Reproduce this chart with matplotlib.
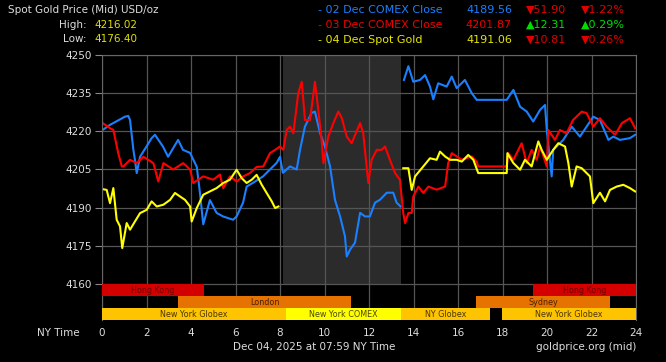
import matplotlib
matplotlib.use('Agg')
import matplotlib.pyplot as plt
import numpy as np

# 02 Dec COMEX close (blue), hours NY time / price
blue_h = [0.03, 0.36, 1.03, 1.18, 1.26, 1.41, 1.48, 1.56, 1.71, 2.0, 2.23, 2.38, 2.74, 2.97,
          3.42, 3.64, 3.96, 4.26, 4.40, 4.55, 4.85, 5.15, 5.44, 5.89, 6.05, 6.34, 6.50, 6.79,
          7.24, 7.55, 7.85, 8.0, 8.13, 8.45, 8.75, 8.90, 9.12, 9.42, 9.57, 9.80, 10.02, 10.25,
          10.47, 10.70, 10.92, 11.0, 11.15, 11.37, 11.60, 11.82, 12.04, 12.27, 12.49, 12.80,
          13.09, 13.24, 13.42, np.nan,
          13.57, 13.77, 13.99, 14.29, 14.52, 14.74, 14.89, 15.11, 15.49, 15.72, 15.94, 16.31,
          16.62, 16.84, 18.19, 18.49, 18.79, 19.09, 19.38, 19.69, 19.91, 19.99, 20.21, 20.28,
          20.73, 21.11, 21.48, 21.78, 22.08, 22.38, 22.76, 22.98, 23.28, 23.73, 23.96]
blue_p = [4220.5, 4222.5, 4225.7, 4226.0, 4224.4, 4212.7, 4208.8, 4203.6, 4210.0, 4214.0, 4217.3, 4218.6, 4214.0, 4210.0,
          4216.6, 4212.7, 4211.5, 4206.0, 4196.0, 4183.5, 4193.0, 4188.0, 4186.6, 4185.3, 4186.6, 4192.0, 4198.3, 4199.8,
          4202.3, 4205.0, 4207.6, 4210.0, 4203.7, 4206.2, 4205.0, 4212.7, 4221.8, 4227.2, 4227.7, 4219.3, 4214.0, 4206.2,
          4193.1, 4186.6, 4178.8, 4170.9, 4173.6, 4176.3, 4188.0, 4186.6, 4186.6, 4192.0, 4193.1, 4195.9,
          4195.9, 4192.0, 4190.5, np.nan,
          4240.1, 4245.5, 4239.4, 4240.1, 4242.0, 4237.5, 4232.5, 4238.8, 4237.5, 4241.4, 4236.9, 4240.1,
          4234.9, 4232.3, 4232.3, 4236.2, 4229.6, 4227.7, 4223.8, 4228.4, 4230.3, 4220.5, 4202.3, 4212.7,
          4216.6, 4221.8, 4217.9, 4221.8, 4225.7, 4224.4, 4216.6, 4217.9, 4216.6, 4217.3, 4218.6]

# 03 Dec COMEX close (red)
red_h = [0.03, 0.36, 0.51, 0.73, 0.89, 0.96, 1.26, 1.56, 1.86, 2.31, 2.53, 2.76, 3.20, 3.65,
         3.96, 4.10, 4.55, 5.00, 5.30, 5.45, 5.75, 6.05, 6.35, 6.65, 6.95, 7.25, 7.55, 7.78,
         8.0, 8.15, 8.30, 8.45, 8.60, 8.82, 8.98, 9.12, 9.35, 9.57, 9.72, 9.87, 9.95, 10.17,
         10.40, 10.62, 10.78, 11.0, 11.22, 11.60, 11.74, 11.97, 12.12, 12.35, 12.57, 12.72,
         12.94, 13.17, 13.39, 13.54, 13.62, 13.77, 13.92, 13.99, 14.22, 14.44, 14.67, 15.04,
         15.42, 15.56, 15.72, 16.17, 16.62, 16.84, 16.91, 18.19, 18.26, 18.49, 18.86, 19.09,
         19.31, 19.54, 19.69, 19.99, 20.06, 20.36, 20.58, 20.88, 21.17, 21.56, 21.78, 22.08,
         22.38, 22.68, 23.06, 23.37, 23.73, 23.96]
red_p = [4223.2, 4221.2, 4220.5, 4211.4, 4206.2, 4206.2, 4208.8, 4207.5, 4210.0, 4207.5, 4200.3, 4207.5, 4205.0, 4207.5,
         4205.0, 4199.7, 4202.3, 4201.0, 4203.0, 4197.7, 4202.3, 4200.3, 4202.3, 4203.6, 4206.0, 4206.2, 4211.4, 4212.7,
         4214.0, 4212.7, 4220.5, 4221.8, 4219.2, 4234.9, 4239.4, 4224.4, 4224.4, 4239.4, 4228.4, 4216.6, 4207.5, 4217.9,
         4223.2, 4227.7, 4225.1, 4217.9, 4215.3, 4223.2, 4219.2, 4199.7, 4208.8, 4212.7, 4212.7, 4214.0,
         4208.8, 4203.6, 4201.0, 4187.9, 4184.0, 4187.9, 4188.0, 4194.4, 4198.3, 4195.8, 4198.3, 4197.1,
         4198.3, 4207.5, 4211.4, 4208.8, 4210.1, 4208.0, 4206.2, 4206.2, 4211.4, 4208.8, 4215.3, 4207.5,
         4212.7, 4208.8, 4214.0, 4206.2, 4220.5, 4216.6, 4220.5, 4219.2, 4224.4, 4227.7, 4227.1, 4221.8,
         4225.1, 4221.8, 4218.6, 4223.2, 4225.1, 4221.2]

# 04 Dec spot gold (yellow)
yel_h = [0.03, 0.21, 0.36, 0.51, 0.66, 0.81, 0.91, 1.11, 1.26, 1.48, 1.71, 2.01, 2.23, 2.46,
         2.76, 3.06, 3.28, 3.51, 3.73, 3.96, 4.03, 4.26, 4.55, 4.85, 5.15, 5.45, 5.75, 6.05,
         6.28, 6.50, 6.73, 6.95, 7.18, 7.40, 7.63, 7.78, 7.93, np.nan,
         13.54, 13.77, 13.92, 14.07, 14.44, 14.74, 15.04, 15.19, 15.42, 15.64, 15.94, 16.17,
         16.46, 16.69, 16.91, 18.19, 18.22, 18.49, 18.79, 19.01, 19.31, 19.61, 19.76, 19.99,
         20.28, 20.51, 20.81, 20.96, 21.11, 21.33, 21.56, 21.78, 21.93, 22.08, 22.38, 22.61,
         22.83, 23.13, 23.43, 23.73, 23.96]
yel_p = [4197.3, 4197.0, 4191.8, 4197.7, 4185.3, 4182.7, 4174.2, 4184.0, 4181.4, 4184.6, 4187.9, 4189.2, 4192.5, 4190.5,
         4191.2, 4193.1, 4195.8, 4194.4, 4193.1, 4190.5, 4184.6, 4189.9, 4195.1, 4196.4, 4197.7, 4199.7, 4201.0, 4204.9,
         4201.6, 4199.7, 4201.0, 4202.9, 4199.0, 4195.8, 4192.5, 4189.9, 4190.5, np.nan,
         4205.5, 4205.5, 4197.0, 4202.3, 4206.2, 4209.4, 4208.8, 4212.0, 4210.1, 4208.8, 4208.8, 4208.1,
         4210.7, 4208.8, 4203.6, 4203.6, 4211.4, 4207.5, 4204.9, 4208.8, 4206.2, 4216.0, 4212.7, 4208.8,
         4212.7, 4215.3, 4214.0, 4207.5, 4198.3, 4206.2, 4205.5, 4203.6, 4202.3, 4191.8, 4195.9, 4192.5,
         4197.0, 4198.3, 4199.0, 4197.7, 4196.4]

# trading sessions (hours NY time)
session_names = ['Hong Kong', 'London', 'New York Globex', 'New York COMEX', 'NY Globex',
                 'Sydney', 'New York Globex', 'Hong Kong']
session_start = [0, 3.42, 0, 8.27, 13.42, 16.8, 17.98, 19.38]
session_end = [4.58, 11.2, 8.27, 13.42, 17.44, 22.83, 24, 24]
session_row = [0, 1, 2, 2, 2, 1, 2, 0]
comex_open, comex_close = 8.15, 13.42

session_color = {'Hong Kong': '#d40000', 'London': '#e67300', 'Sydney': '#e67300',
                 'New York Globex': '#ffc400', 'NY Globex': '#ffc400', 'New York COMEX': '#ffff00'}
session_text = {'Hong Kong': '#6a0000', 'London': '#4a2000', 'Sydney': '#4a2000',
                'New York Globex': '#4a3500', 'NY Globex': '#4a3500', 'New York COMEX': '#4a4a00'}

ylo, yhi = 4146, 4250
band_top = 4160
band_h = (band_top - ylo) / 3

fig = plt.figure(figsize=(6.66, 3.62), dpi=100, facecolor='black')
ax = fig.add_axes([102/666, 42/362, 534/666, 265.3/362], facecolor='black')
ax.set_xlim(0, 24)
ax.set_ylim(ylo, yhi)

# COMEX hours shading
ax.axvspan(comex_open, comex_close, ymin=(band_top - ylo)/(yhi - ylo), ymax=1,
           color='#2b2b2b', zorder=0.2, lw=0)

ax.set_axisbelow(True)
ax.set_xticks(range(0, 25, 2))
ax.set_yticks(range(4160, 4251, 15))
ax.grid(color='#555555', lw=0.9)
ax.tick_params(axis='y', length=5, width=0.8, color='#888888', labelcolor='#dddddd',
               labelsize=7.5, pad=2)
ax.tick_params(axis='x', length=0, labelcolor='#dddddd', labelsize=7.5, pad=6)
for s in ['left', 'right', 'top']:
    ax.spines[s].set_color('#666666')
ax.spines['bottom'].set_visible(False)

ax.plot(blue_h, blue_p, color='#1a80ff', lw=1.5, zorder=2)
ax.plot(red_h, red_p, color='#ff0000', lw=1.5, zorder=2.1)
ax.plot(yel_h, yel_p, color='#ffff00', lw=1.5, zorder=2.2)

# session bands
for name, s0, s1, row in zip(session_names, session_start, session_end, session_row):
    yc = band_top - band_h * (row + 0.5)
    ax.barh(yc, s1 - s0, left=s0, height=band_h, color=session_color[name], lw=0, zorder=3)
    ax.text((s0 + s1) / 2, yc, name, ha='center', va='center', fontsize=5.8,
            color=session_text[name], zorder=4)

# header
def fy(px):
    return 1 - px / 362

fig.text(8/666, fy(10), 'Spot Gold Price (Mid) USD/oz', color='#dddddd', fontsize=7.5, va='center')
fig.text(87/666, fy(25), 'High:', color='#dddddd', fontsize=7.5, va='center', ha='right')
fig.text(94/666, fy(25), '4216.02', color='#e0e000', fontsize=7.5, va='center')
fig.text(87/666, fy(39.5), 'Low:', color='#dddddd', fontsize=7.5, va='center', ha='right')
fig.text(94/666, fy(39.5), '4176.40', color='#e0e000', fontsize=7.5, va='center')

rows = [('- 02 Dec COMEX Close', '4189.56', '\u25bc51.90', '\u25bc1.22%', '#1a80ff', '#e00000'),
        ('- 03 Dec COMEX Close', '4201.87', '\u25b212.31', '\u25b20.29%', '#ee0000', '#00dd00'),
        ('- 04 Dec Spot Gold', '4191.06', '\u25bc10.81', '\u25bc0.26%', '#e6e600', '#e00000')]
for i, (lab, val, chg, pct, c1, c2) in enumerate(rows):
    yy = fy(10 + i * 14.8)
    fig.text(318/666, yy, lab, color=c1, fontsize=8, va='center')
    fig.text(512/666, yy, val, color=c1, fontsize=8, va='center', ha='right')
    fig.text(566/666, yy, chg, color=c2, fontsize=8, va='center', ha='right')
    fig.text(625/666, yy, pct, color=c2, fontsize=8, va='center', ha='right')

# footer
fig.text(58/666, fy(332.5), 'NY Time', color='#dddddd', fontsize=7.5, va='center', ha='center')
fig.text(233/666, fy(347), 'Dec 04, 2025 at 07:59 NY Time', color='#dddddd', fontsize=7.5, va='center')
fig.text(636/666, fy(347), 'goldprice.org (mid)', color='#dddddd', fontsize=7.5, va='center', ha='right')

fig.savefig('out.png', dpi=100, facecolor='black')
